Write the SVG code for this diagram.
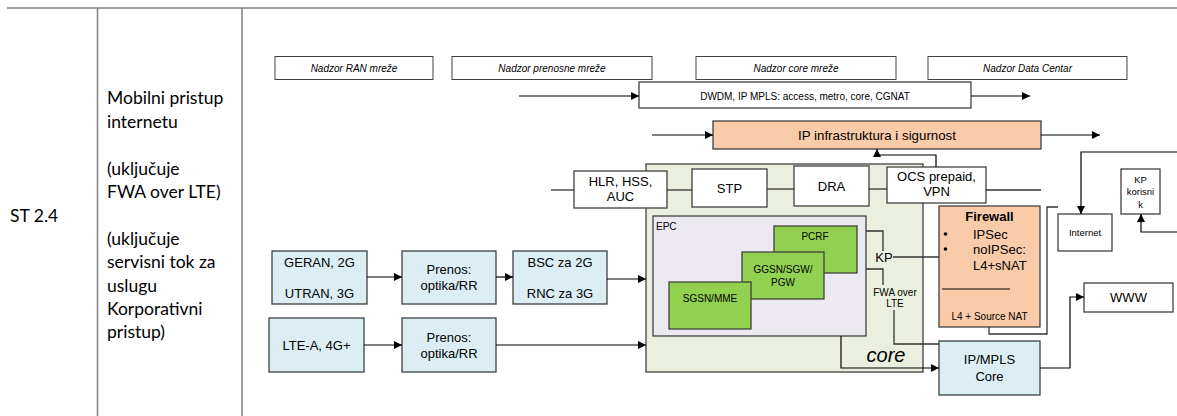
<svg xmlns="http://www.w3.org/2000/svg" width="1177" height="416" viewBox="0 0 1177 416">
  <style>
    .grid { stroke: #7f7f7f; stroke-width: 1.5; fill: none; }
    .cell { font-family: Lato, "Liberation Sans", sans-serif; font-size: 17.5px; fill: #000; }
    .lbl { font-family: "Liberation Sans", Arial, sans-serif; fill: #000; }
    .s13 { font-size: 13px; }
    .s10 { font-size: 10px; }
    .mid { text-anchor: middle; }
    .nadzor rect { fill: #fff; stroke: #404040; stroke-width: 1; }
    .nadzor text { font-style: italic; }
    .box { stroke: #404040; stroke-width: 1.3; }
    .white { fill: #fff; }
    .peach { fill: #f9cba8; }
    .blue { fill: #daeef3; }
    .green { fill: #92d050; }
    .coref { fill: #ebefdf; }
    .epcf { fill: #ece9f1; }
    .wire { fill: none; stroke: #000; stroke-width: 1.2; }
    .link { fill: none; stroke: #333; stroke-width: 1.3; }
  </style>
  <defs>
    <marker id="arr" viewBox="0 0 10 10" refX="10" refY="5" markerWidth="9" markerHeight="8" markerUnits="userSpaceOnUse" orient="auto">
      <path d="M0,0 L10,5 L0,10 z" fill="#000"/>
    </marker>
  </defs>

  <!-- table frame -->
  <g id="table">
    <line class="grid" x1="7" y1="8" x2="1177" y2="8"/>
    <line class="grid" x1="97.5" y1="8" x2="97.5" y2="416"/>
    <line class="grid" x1="242" y1="8" x2="242" y2="416"/>
    <text class="cell" x="10" y="222">ST 2.4</text>
    <text class="cell" x="107">
      <tspan x="107" y="104">Mobilni pristup</tspan>
      <tspan x="107" y="127.5">internetu</tspan>
      <tspan x="107" y="174.5">(uključuje</tspan>
      <tspan x="107" y="198">FWA over LTE)</tspan>
      <tspan x="107" y="245">(uključuje</tspan>
      <tspan x="107" y="268">servisni tok za</tspan>
      <tspan x="107" y="291.5">uslugu</tspan>
      <tspan x="107" y="315">Korporativni</tspan>
      <tspan x="107" y="338">pristup)</tspan>
    </text>
  </g>

  <!-- monitoring bars -->
  <g id="nadzor-ran" class="nadzor">
    <rect x="275" y="56.5" width="158" height="23"/>
    <text class="lbl s10 mid" x="354" y="71.5">Nadzor RAN mreže</text>
  </g>
  <g id="nadzor-prenos" class="nadzor">
    <rect x="452" y="56.5" width="200" height="23"/>
    <text class="lbl s10 mid" x="552" y="71.5">Nadzor prenosne mreže</text>
  </g>
  <g id="nadzor-core" class="nadzor">
    <rect x="696" y="56.5" width="200" height="23"/>
    <text class="lbl s10 mid" x="796" y="71.5">Nadzor core mreže</text>
  </g>
  <g id="nadzor-dc" class="nadzor">
    <rect x="928" y="56.5" width="199" height="23"/>
    <text class="lbl s10 mid" x="1027.5" y="71.5">Nadzor Data Centar</text>
  </g>

  <!-- transport and IP layers -->
  <g id="dwdm">
    <rect class="box white" x="639" y="82" width="332" height="26"/>
    <text class="lbl s10 mid" x="805" y="99.5">DWDM, IP MPLS: access, metro, core, CGNAT</text>
  </g>
  <g id="ip-infra">
    <rect class="box peach" x="713" y="121" width="328" height="28"/>
    <text class="lbl mid" x="877" y="139.7" font-size="13.3">IP infrastruktura i sigurnost</text>
  </g>

  <!-- core network area -->
  <g id="core">
    <rect class="box coref" x="646" y="164" width="277" height="208"/>
    <text class="lbl mid" x="886" y="362" font-size="20" font-style="italic">core</text>
  </g>
  <g id="epc">
    <rect class="box epcf" x="653" y="216" width="213" height="120"/>
    <text class="lbl s10" x="656" y="229.5">EPC</text>
  </g>
  <g id="pcrf">
    <rect class="box green" x="774" y="226" width="83" height="47"/>
    <text class="lbl s10 mid" x="815" y="239.6">PCRF</text>
  </g>
  <g id="ggsn">
    <rect class="box green" x="742" y="252" width="82" height="47"/>
    <text class="lbl s10 mid" x="783" y="272.6">GGSN/SGW/</text>
    <text class="lbl s10 mid" x="783" y="285.6">PGW</text>
  </g>
  <g id="sgsn">
    <rect class="box green" x="669" y="282" width="82" height="47"/>
    <text class="lbl s10 mid" x="710" y="301.6">SGSN/MME</text>
  </g>

  <g id="hlr">
    <rect class="box white" x="574" y="171" width="93" height="37"/>
    <text class="lbl s13 mid" x="620.5" y="186">HLR, HSS,</text>
    <text class="lbl s13 mid" x="620.5" y="201">AUC</text>
  </g>
  <g id="stp">
    <rect class="box white" x="692" y="169" width="75" height="38"/>
    <text class="lbl s13 mid" x="729.5" y="192.7">STP</text>
  </g>
  <g id="dra">
    <rect class="box white" x="794" y="166" width="75" height="40"/>
    <text class="lbl s13 mid" x="831.5" y="190.7">DRA</text>
  </g>
  <g id="ocs">
    <rect class="box white" x="887" y="167" width="99" height="36"/>
    <text class="lbl s13 mid" x="936.5" y="180.5">OCS prepaid,</text>
    <text class="lbl s13 mid" x="936.5" y="196">VPN</text>
  </g>

  <g id="firewall">
    <rect class="box peach" x="939" y="206" width="101" height="121"/>
    <text class="lbl s13 mid" x="989.5" y="220.7" font-weight="bold">Firewall</text>
    <circle cx="945.5" cy="234" r="1.8" fill="#000"/>
    <circle cx="945.5" cy="249" r="1.8" fill="#000"/>
    <text class="lbl s13" x="973" y="238.7">IPSec</text>
    <text class="lbl s13" x="973" y="253.7">noIPSec:</text>
    <text class="lbl s13" x="973" y="269.7">L4+sNAT</text>
    <line x1="942" y1="289" x2="1010" y2="289" stroke="#000" stroke-width="1"/>
    <text class="lbl s10 mid" x="989.5" y="319.6">L4 + Source NAT</text>
  </g>

  <g id="internet">
    <rect class="box white" x="1058" y="214" width="54" height="37"/>
    <text class="lbl mid" x="1085" y="235.5" font-size="9.5">Internet</text>
  </g>
  <g id="kp-korisnik">
    <rect class="box white" x="1121" y="169" width="39" height="45"/>
    <text class="lbl mid" x="1140.5" y="182.5" font-size="9.5">KP</text>
    <text class="lbl mid" x="1140.5" y="195" font-size="9.5">korisni</text>
    <text class="lbl mid" x="1140.5" y="207.5" font-size="9.5">k</text>
  </g>
  <g id="ipmpls">
    <rect class="box blue" x="939" y="341" width="101" height="54"/>
    <text class="lbl s13 mid" x="989.5" y="363.7">IP/MPLS</text>
    <text class="lbl s13 mid" x="989.5" y="380.7">Core</text>
  </g>
  <g id="www">
    <rect class="box white" x="1084" y="283" width="89" height="29"/>
    <text class="lbl s13 mid" x="1128.5" y="302">WWW</text>
  </g>

  <!-- radio access and transport -->
  <g id="geran">
    <rect class="box blue" x="272" y="251" width="95" height="53"/>
    <text class="lbl s13 mid" x="319.5" y="266.7">GERAN, 2G</text>
    <text class="lbl s13 mid" x="319.5" y="297.7">UTRAN, 3G</text>
  </g>
  <g id="prenos1">
    <rect class="box blue" x="402" y="251" width="94" height="53"/>
    <text class="lbl s13 mid" x="449" y="273.7">Prenos:</text>
    <text class="lbl s13 mid" x="449" y="289.7">optika/RR</text>
  </g>
  <g id="bsc">
    <rect class="box blue" x="513" y="251" width="94" height="53"/>
    <text class="lbl s13 mid" x="560" y="266.7">BSC za 2G</text>
    <text class="lbl s13 mid" x="560" y="297.7">RNC za 3G</text>
  </g>
  <g id="lte">
    <rect class="box blue" x="269" y="318" width="95" height="54"/>
    <text class="lbl s13 mid" x="316.5" y="349.7">LTE-A, 4G+</text>
  </g>
  <g id="prenos2">
    <rect class="box blue" x="402" y="318" width="94" height="54"/>
    <text class="lbl s13 mid" x="449" y="341.7">Prenos:</text>
    <text class="lbl s13 mid" x="449" y="357.7">optika/RR</text>
  </g>

  <!-- connector labels inside core -->
  <g id="kp-label">
    <text class="lbl s13 mid" x="884" y="261.7">KP</text>
  </g>
  <g id="fwa-label">
    <text class="lbl s10 mid" x="895" y="295.6">FWA over</text>
    <text class="lbl s10 mid" x="895" y="306.6">LTE</text>
  </g>

  <!-- connectors -->
  <g id="connectors">
    <path class="wire" d="M519,96 H639" marker-end="url(#arr)"/>
    <path class="wire" d="M971,96 H1030" marker-end="url(#arr)"/>
    <path class="wire" d="M652,135 H713" marker-end="url(#arr)"/>
    <path class="wire" d="M1041,135 H1100" marker-end="url(#arr)"/>
    <path class="wire" d="M936,167 V155 H877 V149" marker-end="url(#arr)"/>

    <path class="link" d="M551,190 H574"/>
    <path class="link" d="M667,190 H692"/>
    <path class="link" d="M767,189 H794"/>
    <path class="link" d="M869,189 H887"/>
    <path class="link" d="M986,190 H1041"/>

    <path class="wire" d="M1177,152 H1081 V214" marker-end="url(#arr)"/>
    <path class="wire" d="M1177,232 H1141 V214" marker-end="url(#arr)"/>
    <path class="link" d="M989,327 V334 H1047 V207 H1058"/>

    <path class="link" d="M866,231 H883 V251"/>
    <path class="link" d="M893,257 H939"/>
    <path class="link" d="M866,269 H883 V285"/>
    <path class="link" d="M894,310 V344 H939"/>
    <path class="wire" d="M841,336 V368 H939" marker-end="url(#arr)"/>
    <path class="wire" d="M1040,368 H1070 V297 H1084" marker-end="url(#arr)"/>

    <path class="wire" d="M367,277 H402" marker-end="url(#arr)"/>
    <path class="wire" d="M496,277 H513" marker-end="url(#arr)"/>
    <path class="wire" d="M607,279 H646" marker-end="url(#arr)"/>
    <path class="wire" d="M364,345 H402" marker-end="url(#arr)"/>
    <path class="wire" d="M496,345 H646" marker-end="url(#arr)"/>
  </g>
</svg>
